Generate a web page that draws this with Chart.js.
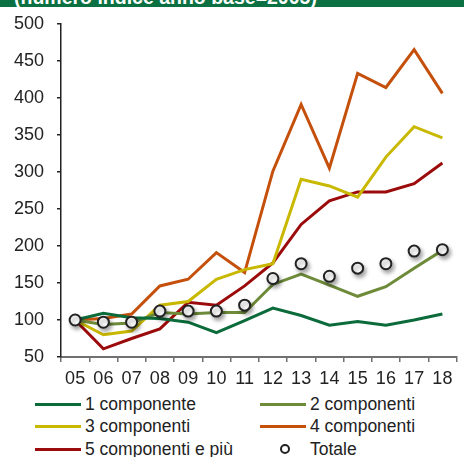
<!DOCTYPE html>
<html lang="it">
<head>
<meta charset="utf-8">
<title>Famiglie per numero di componenti</title>
<script src="https://cdn.jsdelivr.net/npm/chart.js@4/dist/chart.umd.min.js"></script>
<style>
  html, body { margin: 0; padding: 0; background: #fff; }
  body { width: 464px; height: 457px; position: relative; overflow: hidden; font-family: "Liberation Sans", Arial, sans-serif; }
  .head { position: absolute; left: 0; top: 0; width: 464px; height: 7px; background: #0b7142; overflow: hidden; }
  .head span { position: absolute; left: 14px; top: -13px; font-size: 19.5px; line-height: 20px; font-weight: bold; color: #fff; white-space: nowrap; }
  #wrap { position: absolute; left: 0; top: 0; width: 464px; height: 392px; }
  #legend { position: absolute; left: 0; top: 393px; width: 464px; }
  .lg-item { position: absolute; height: 22px; display: flex; align-items: center; font-size: 17.5px; color: #222; white-space: nowrap; }
  .lg-line { width: 46px; height: 3px; margin-right: 4px; }
  .lg-dot { width: 6px; height: 6px; border: 2px solid #222; border-radius: 50%; margin: 0 20px 0 20px; background: #fff; }
</style>
</head>
<body>
<div class="head"><span>(numero indice anno base=2005)</span></div>
<div id="wrap"><canvas id="chart"></canvas></div>
<div id="legend"></div>
<script>
  // anni (2005-2018)
  const anni = ['05', '06', '07', '08', '09', '10', '11', '12', '13', '14', '15', '16', '17', '18'];

  const unoComp = [100, 109, 103, 102, 97, 83, 99, 116, 106, 93, 98, 93, 100, 108];
  const dueComp = [100, 94, 96, 110, 108, 110, 110, 148, 162, 147, 132, 145, 170, 194];
  const treComp = [100, 80, 85, 120, 125, 155, 168, 176, 290, 281, 266, 320, 361, 346];
  const quattroComp = [100, 102, 108, 146, 155, 191, 164, 301, 391, 305, 433, 414, 465, 406];
  const cinqueComp = [100, 61, 75, 88, 124, 120, 146, 177, 229, 261, 273, 273, 284, 312];
  const totale = [100, 97, 97, 112, 112, 112, 120, 156, 176, 159, 170, 176, 193, 195];

  const yMin = 50, yMax = 500, yStep = 50;

  function serie(label, data, color) {
    return { label, data, borderColor: color, backgroundColor: color, borderWidth: 3, pointRadius: 0, tension: 0, fill: false };
  }

  // ombra sotto i cerchietti del totale
  const shadowPlugin = {
    id: 'shadowPlugin',
    beforeDatasetDraw(chart, args) {
      if (chart.data.datasets[args.index].label !== 'Totale') return;
      const ctx = chart.ctx;
      ctx.save();
      ctx.shadowColor = 'rgba(0,0,0,0.35)';
      ctx.shadowBlur = 4;
      ctx.shadowOffsetX = 2;
      ctx.shadowOffsetY = 3;
    },
    afterDatasetDraw(chart, args) {
      if (chart.data.datasets[args.index].label !== 'Totale') return;
      chart.ctx.restore();
    }
  };

  // legenda html su due colonne
  const htmlLegend = {
    id: 'htmlLegend',
    afterUpdate(chart) {
      const box = document.getElementById('legend');
      box.innerHTML = '';
      chart.data.datasets.forEach((ds, i) => {
        const item = document.createElement('div');
        item.className = 'lg-item';
        const col = i % 2, row = Math.floor(i / 2);
        item.style.left = (col ? 260 : 35) + 'px';
        item.style.top = (row * 22.5) + 'px';
        const mark = document.createElement('span');
        if (ds.showLine === false) {
          mark.className = 'lg-dot';
        } else {
          mark.className = 'lg-line';
          mark.style.background = ds.borderColor;
        }
        item.appendChild(mark);
        item.appendChild(document.createTextNode(ds.label));
        box.appendChild(item);
      });
    }
  };

  new Chart(document.getElementById('chart'), {
    type: 'line',
    data: {
      labels: anni,
      datasets: [
        serie('1 componente', unoComp, '#0b6b3a'),
        serie('2 componenti', dueComp, '#6e8b3a'),
        serie('3 componenti', treComp, '#c8b800'),
        serie('4 componenti', quattroComp, '#c4500c'),
        serie('5 componenti e più', cinqueComp, '#9b0b0b'),
        {
          label: 'Totale', data: totale, showLine: false, order: -1,
          pointStyle: 'circle', pointRadius: 5.5, pointBorderWidth: 2,
          pointBorderColor: '#222', pointBackgroundColor: '#fff',
          borderColor: '#222', backgroundColor: '#fff'
        }
      ]
    },
    options: {
      responsive: true,
      maintainAspectRatio: false,
      animation: false,
      layout: { padding: { top: 23, right: 0, left: 0, bottom: 0 } },
      plugins: {
        legend: { display: false },
        tooltip: { enabled: false }
      },
      scales: {
        x: {
          offset: true,
          grid: { offset: true, drawOnChartArea: false, drawTicks: true, tickLength: 5, color: '#707070', lineWidth: 1.5 },
          border: { color: '#707070', width: 2 },
          ticks: { color: '#222', font: { size: 18, family: '"Liberation Sans", Arial, sans-serif' }, padding: 6, maxRotation: 0, autoSkip: false },
          afterFit: (s) => { s.height = 35; }
        },
        y: {
          min: yMin,
          max: yMax,
          grid: { drawOnChartArea: false, drawTicks: true, tickLength: 4, color: '#222', lineWidth: 1.5 },
          border: { color: '#222', width: 1.5 },
          ticks: { stepSize: yStep, color: '#222', font: { size: 18, family: '"Liberation Sans", Arial, sans-serif' }, padding: 13 },
          afterFit: (s) => { s.width = 61; }
        }
      }
    },
    plugins: [shadowPlugin, htmlLegend]
  });
</script>
</body>
</html>
